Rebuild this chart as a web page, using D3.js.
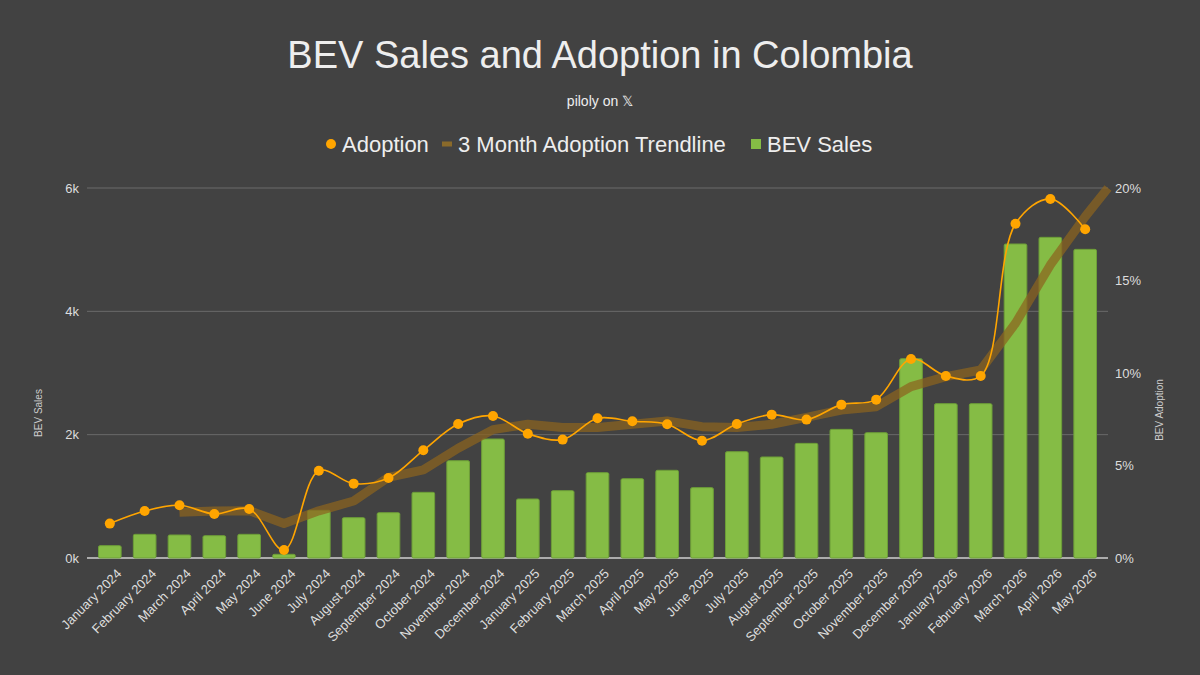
<html>
<head>
<meta charset="utf-8">
<script src="https://d3js.org/d3.v7.min.js"></script>
<style>
  body { margin: 0; background: #424242; }
  text { font-family: "Liberation Sans", Arial, sans-serif; }
</style>
</head>
<body>
<div id="chart"></div>
<script>
// monthly categories
const months = [
  "January 2024","February 2024","March 2024","April 2024","May 2024","June 2024",
  "July 2024","August 2024","September 2024","October 2024","November 2024","December 2024",
  "January 2025","February 2025","March 2025","April 2025","May 2025","June 2025",
  "July 2025","August 2025","September 2025","October 2025","November 2025","December 2025",
  "January 2026","February 2026","March 2026","April 2026","May 2026"
];
// BEV sales (units)
const sales = [200,384,373,362,384,60,773,654,735,1065,1578,1930,
  957,1092,1384,1286,1422,1141,1724,1638,1859,2086,2032,3232,
  2503,2503,5092,5200,5005];
// adoption (% of market)
const adoption = [1.86,2.54,2.85,2.38,2.65,0.43,4.72,4.02,4.32,5.82,7.24,7.68,
  6.72,6.40,7.55,7.39,7.23,6.34,7.24,7.75,7.48,8.29,8.56,10.76,
  9.84,9.84,18.07,19.41,17.77];
// 3 month trendline, March 2024 onward, plus the value where it leaves the plot on the right
const trendStart = 2;
const trend = [2.47,2.54,2.56,1.87,2.55,3.08,4.36,4.76,5.93,6.94,
  7.23,7.05,7.05,7.23,7.41,7.10,7.05,7.23,7.60,8.00,8.18,9.26,
  9.80,10.16,12.69,15.84,18.45];
const trendEnd = 20;

const salesTicks = [0,2000,4000,6000];
const adoptionTicks = [0,5,10,15,20];

const W = 1200, H = 675;
const svg = d3.select("#chart").append("svg")
  .attr("width", W).attr("height", H);
svg.append("rect").attr("width", W).attr("height", H).attr("fill", "#424242");

const plot = {left: 87, right: 1108, top: 188, bottom: 558};

const x = d3.scaleBand()
  .domain(months)
  .range([plot.left, plot.right])
  .paddingInner(0.35)
  .paddingOuter(0.33);
const yL = d3.scaleLinear().domain([0, 6000]).range([plot.bottom, plot.top]);
const yR = d3.scaleLinear().domain([0, 20]).range([plot.bottom, plot.top]);
const cx = d => x(d) + x.bandwidth() / 2;

// title
svg.append("text")
  .attr("x", 600).attr("y", 68)
  .attr("text-anchor", "middle")
  .attr("fill", "#eeeeee")
  .style("font-size", "38px")
  .text("BEV Sales and Adoption in Colombia");
svg.append("text")
  .attr("x", 600).attr("y", 106)
  .attr("text-anchor", "middle")
  .attr("fill", "#eeeeee")
  .style("font-size", "14px")
  .text("piloly on 𝕏");

// legend
const lg = svg.append("g").style("font-size", "22px").attr("fill", "#eeeeee");
lg.append("circle").attr("cx", 331).attr("cy", 144).attr("r", 5).attr("fill", "#ffa500");
lg.append("text").attr("x", 342).attr("y", 152).text("Adoption");
lg.append("rect").attr("x", 442).attr("y", 141.5).attr("width", 10).attr("height", 5)
  .attr("fill", "#8a6a2a");
lg.append("text").attr("x", 458).attr("y", 152).text("3 Month Adoption Trendline");
lg.append("rect").attr("x", 751).attr("y", 139).attr("width", 10).attr("height", 10)
  .attr("fill", "#85bc45");
lg.append("text").attr("x", 767).attr("y", 152).text("BEV Sales");

// gridlines
svg.append("g")
  .selectAll("line")
  .data(salesTicks.slice(1))
  .join("line")
  .attr("x1", plot.left).attr("x2", plot.right)
  .attr("y1", d => yL(d)).attr("y2", d => yL(d))
  .attr("stroke", "#6a6a6a").attr("stroke-width", 1);

// left axis
svg.append("g")
  .attr("transform", `translate(${plot.left},0)`)
  .call(d3.axisLeft(yL).tickValues(salesTicks).tickSize(0).tickPadding(8)
    .tickFormat(d => (d / 1000) + "k"))
  .call(g => g.select(".domain").remove())
  .selectAll("text")
  .attr("fill", "#dddddd")
  .style("font-size", "13px")
  .style("font-family", "Liberation Sans, Arial, sans-serif");

// right axis
svg.append("g")
  .attr("transform", `translate(${plot.right},0)`)
  .call(d3.axisRight(yR).tickValues(adoptionTicks).tickSize(0).tickPadding(7)
    .tickFormat(d => d + "%"))
  .call(g => g.select(".domain").remove())
  .selectAll("text")
  .attr("fill", "#dddddd")
  .style("font-size", "13px")
  .style("font-family", "Liberation Sans, Arial, sans-serif");

// axis titles
svg.append("text")
  .attr("transform", `translate(42,${(plot.top + plot.bottom) / 2 + 40}) rotate(-90)`)
  .attr("text-anchor", "middle")
  .attr("fill", "#cccccc")
  .style("font-size", "10px")
  .text("BEV Sales");
svg.append("text")
  .attr("transform", `translate(1163,${(plot.top + plot.bottom) / 2 + 37}) rotate(-90)`)
  .attr("text-anchor", "middle")
  .attr("fill", "#cccccc")
  .style("font-size", "10px")
  .text("BEV Adoption");

// baseline
svg.append("line")
  .attr("x1", plot.left).attr("x2", plot.right)
  .attr("y1", yL(0)).attr("y2", yL(0))
  .attr("stroke", "#d0d0d0").attr("stroke-width", 1.5);

// bars
svg.append("g")
  .selectAll("rect")
  .data(months)
  .join("rect")
  .attr("x", d => x(d))
  .attr("y", (d, i) => yL(sales[i]))
  .attr("width", x.bandwidth())
  .attr("height", (d, i) => yL(0) - yL(sales[i]))
  .attr("rx", 1.5)
  .attr("fill", "#85bc45")
  .attr("stroke", "#6d9e38")
  .attr("stroke-width", 1);

// x labels
svg.append("g")
  .selectAll("text")
  .data(months)
  .join("text")
  .attr("transform", d => `translate(${cx(d) + 6},${plot.bottom + 10}) rotate(-45)`)
  .attr("text-anchor", "end")
  .attr("dy", "0.7em")
  .attr("fill", "#dddddd")
  .style("font-size", "13px")
  .text(d => d);

// trendline
const trendPts = trend.map((v, i) => [cx(months[i + trendStart]), yR(v)]);
trendPts.push([plot.right, yR(trendEnd)]);
svg.append("path")
  .datum(trendPts)
  .attr("d", d3.line())
  .attr("fill", "none")
  .attr("stroke", "rgb(140,100,30)")
  .attr("stroke-opacity", 0.72)
  .attr("stroke-width", 9)
  .attr("stroke-linejoin", "round");

// adoption line
svg.append("path")
  .datum(adoption)
  .attr("d", d3.line()
    .x((d, i) => cx(months[i]))
    .y(d => yR(d))
    .curve(d3.curveCatmullRom.alpha(0.5)))
  .attr("fill", "none")
  .attr("stroke", "#ffa500")
  .attr("stroke-width", 1.6);

svg.append("g")
  .selectAll("circle")
  .data(adoption)
  .join("circle")
  .attr("cx", (d, i) => cx(months[i]))
  .attr("cy", d => yR(d))
  .attr("r", 5)
  .attr("fill", "#ffa500");
</script>
</body>
</html>
